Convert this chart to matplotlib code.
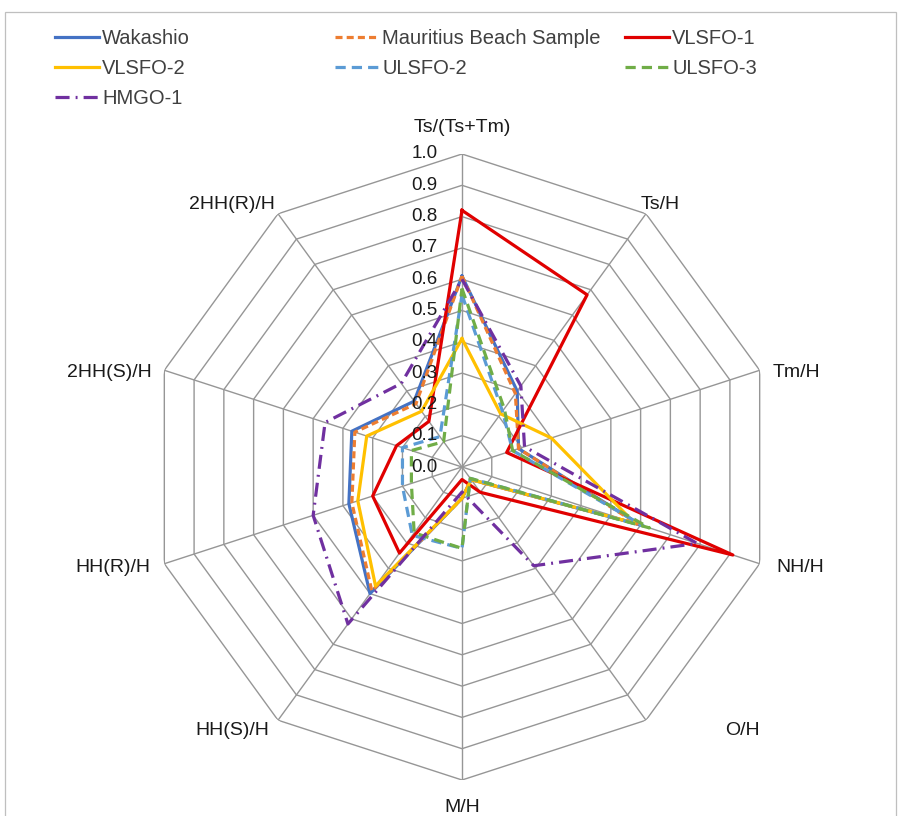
import numpy as np
import matplotlib.pyplot as plt
from matplotlib.patches import Rectangle

plt.rcParams['font.family'] = ['Liberation Sans', 'DejaVu Sans']

# spokes, clockwise from the top
categories = ['Ts/(Ts+Tm)', 'Ts/H', 'Tm/H', 'NH/H', 'O/H', 'M/H',
              'HH(S)/H', 'HH(R)/H', '2HH(S)/H', '2HH(R)/H']

wakashio  = [0.61, 0.30, 0.19, 0.60, 0.05, 0.10, 0.50, 0.38, 0.37, 0.26]
mauritius = [0.61, 0.29, 0.19, 0.59, 0.05, 0.10, 0.49, 0.37, 0.36, 0.25]
vlsfo1    = [0.82, 0.68, 0.15, 0.91, 0.10, 0.04, 0.34, 0.30, 0.22, 0.18]
vlsfo2    = [0.41, 0.21, 0.30, 0.58, 0.05, 0.10, 0.47, 0.35, 0.32, 0.22]
ulsfo2    = [0.55, 0.22, 0.17, 0.61, 0.045, 0.26, 0.27, 0.20, 0.20, 0.12]
ulsfo3    = [0.57, 0.23, 0.17, 0.63, 0.045, 0.26, 0.26, 0.17, 0.17, 0.10]
hmgo1     = [0.60, 0.32, 0.21, 0.79, 0.39, 0.08, 0.62, 0.50, 0.46, 0.33]

series_names = ['Wakashio', 'Mauritius Beach Sample', 'VLSFO-1', 'VLSFO-2',
                'ULSFO-2', 'ULSFO-3', 'HMGO-1']
series_values = [wakashio, mauritius, vlsfo1, vlsfo2, ulsfo2, ulsfo3, hmgo1]
series_colors = ['#4472C4', '#ED7D31', '#E00000', '#FFC000',
                 '#5B9BD5', '#70AD47', '#7030A0']
series_styles = ['-', (0, (2.2, 1.3)), '-', '-',
                 (0, (3.2, 1.9)), (0, (3.2, 1.9)), (0, (4.4, 1.9, 0.6, 1.9))]

radial_ticks = [round(0.1 * i, 1) for i in range(11)]

# label offsets from the outer vertex, in pixels (x right, y down)
label_offsets = [(0, -26), (14, -9), (37, 2), (41, 4), (96, 10), (0, 28),
                 (-46, 10), (-51, 4), (-55, 2), (-46, -9)]

W, H = 901, 816
cx, cy, R = 462, 467, 313

fig = plt.figure(figsize=(W / 100, H / 100), dpi=100)
ax = fig.add_axes([(cx - R) / W, (H - cy - R) / H, 2 * R / W, 2 * R / H],
                  projection='polar')
ax.set_theta_offset(np.pi / 2)
ax.set_theta_direction(-1)
ax.set_ylim(0, 1)
ax.grid(False)
ax.set_xticks([])
ax.set_yticks([])
ax.spines['polar'].set_visible(False)
ax.patch.set_alpha(0)

n = len(categories)
angles = np.linspace(0, 2 * np.pi, n, endpoint=False)
closed = np.append(angles, angles[0])

# decagon rings and spokes
grid_kw = dict(color='#969696', lw=1.0, zorder=1, solid_capstyle='butt')
for r in radial_ticks[1:]:
    ax.plot(closed, [r] * (n + 1), **grid_kw)
for a in angles:
    ax.plot([a, a], [0, 1], **grid_kw)

# radial tick labels along the top spoke
for r in radial_ticks:
    ax.annotate(f'{r:.1f}', xy=(0, r), xytext=(-17.5, 0),
                textcoords='offset points', ha='right', va='center',
                fontsize=13.5, color='#1a1a1a', zorder=5)

# spoke labels
for a, name, (dx, dy) in zip(angles, categories, label_offsets):
    ax.annotate(name, xy=(a, 1.0), xytext=(dx * 0.72, -dy * 0.72),
                textcoords='offset points', ha='center', va='center',
                fontsize=14, color='#1a1a1a', annotation_clip=False)

lines = []
for name, vals, col, ls in zip(series_names, series_values,
                               series_colors, series_styles):
    v = np.append(vals, vals[0])
    ln, = ax.plot(closed, v, color=col, ls=ls, lw=2.3, label=name, zorder=3)
    lines.append(ln)

# legend laid out in three fixed-width columns
leg_kw = dict(frameon=False, fontsize=14.5, handlelength=2.2,
              handletextpad=0.15, labelspacing=0.55, borderpad=0,
              borderaxespad=0, loc='upper left', labelcolor='#404040')
columns = [([0, 3, 6], 55), ([1, 4], 335), ([2, 5], 625)]
for idx, x0 in columns:
    leg = fig.legend([lines[i] for i in idx], [series_names[i] for i in idx],
                     bbox_to_anchor=(x0 / W, 1 - 29 / H), **leg_kw)

# chart area border
fig.add_artist(Rectangle((5 / W, -0.01), (W - 10) / W, 1 - 12 / H + 0.01,
                         transform=fig.transFigure, fill=False,
                         edgecolor='#bfbfbf', lw=0.9))

fig.savefig('out.png', dpi=100)
